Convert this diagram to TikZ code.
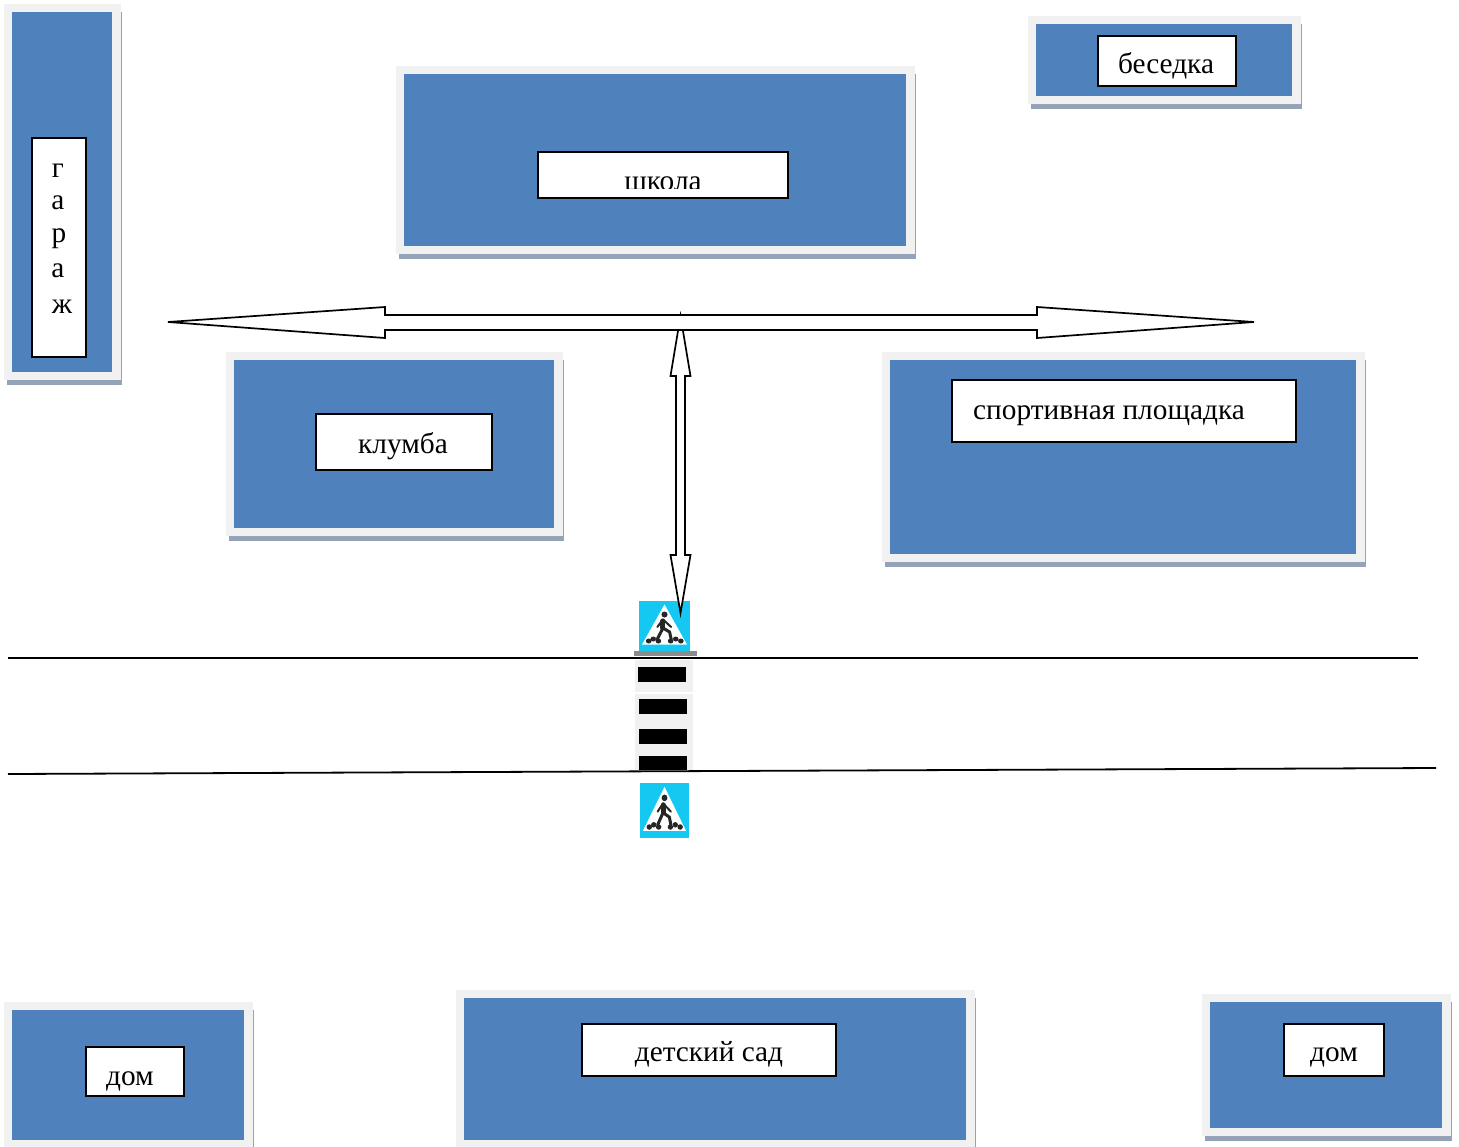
\documentclass[tikz,border=0pt]{standalone}
\usepackage{fontspec}
\setmainfont{Liberation Serif}
\definecolor{bfill}{HTML}{4F81BD}
\definecolor{bframe}{HTML}{F1F1F1}
\definecolor{bshadow}{HTML}{94A3B8}
\definecolor{signblue}{HTML}{14C8F2}
\tikzset{
  shadowrect/.style={fill=bshadow,draw=none},
  framerect/.style={fill=bframe,draw=none},
  bluerect/.style={fill=bfill,draw=none},
  labelbox/.style={draw=black,fill=white,line width=1.9pt},
  labeltext/.style={inner sep=0pt,font=\fontsize{29.3}{32}\selectfont,text=black},
  roadline/.style={draw=black,line width=1.8pt},
  blockarrow/.style={draw=black,fill=white,line width=1.7pt,line join=miter},
}
% building: blue x1,y1,x2,y2; frame margin 8; shadow offset
\newcommand{\bldg}[4]{%
  \fill[shadowrect] (#1-5,#2) rectangle (#3+10,#4+13);
  \fill[framerect] (#1-8,#2-8) rectangle (#3+8.5,#4+8);
  \fill[bluerect] (#1,#2) rectangle (#3,#4);
}
\newcommand{\signpict}[4]{%
  \begin{scope}[shift={(#1,#2)},x=#3pt,y=-#4pt]
    \fill[signblue] (0,0) rectangle (1,1);
    \fill[white] (.5,.07) -- (.94,.87) -- (.06,.87) -- cycle;
    \fill[black!85] (.50,.27) circle[x radius=.06,y radius=.06];
    \draw[black!85,line width=5pt,line cap=round,line join=round] (.47,.40) -- (.47,.54);
    \draw[black!85,line width=3pt,line cap=round,line join=round] (.47,.54) -- (.36,.76);
    \draw[black!85,line width=3pt,line cap=round,line join=round] (.47,.54) -- (.60,.62) -- (.63,.76);
    \draw[black!85,line width=2pt,line cap=round] (.47,.37) -- (.36,.52);
    \draw[black!85,line width=2pt,line cap=round] (.47,.37) -- (.63,.52);
    \foreach \px/\py in {.19/.80,.28/.76,.38/.80,.62/.80,.72/.76,.82/.80}
      \fill[black!85] (\px,\py) circle[x radius=.055,y radius=.05];
  \end{scope}
}
\begin{document}
\begin{tikzpicture}[x=1pt,y=-1pt]
\useasboundingbox (0,0) rectangle (1459,1146);
\fill[white] (0,0) rectangle (1459,1146);

% buildings
\bldg{12}{12}{112}{372}
\bldg{404}{74}{906}{246}
\bldg{1036}{24}{1292}{96}
\bldg{234}{360}{554}{528}
\bldg{890}{360}{1356}{554}
\begin{scope}
  \clip (0,0) rectangle (1459,1146);
  \bldg{12}{1010}{244}{1140}
  \bldg{464}{998}{966}{1140}
\end{scope}
\bldg{1210}{1002}{1442}{1128}

% label boxes
\draw[labelbox] (32,138) rectangle (86,357);
\node[labeltext] (g1) at (58,171) {г};
\node[labeltext] (g2) at (58,203) {а};
\node[labeltext] (g3) at (59,239) {р};
\node[labeltext] (g4) at (58,271) {а};
\node[labeltext] (g5) at (62,307) {ж};

\draw[labelbox] (538,152) rectangle (788,198);
\begin{scope}
  \clip (538,152) rectangle (788,188);
  \node[labeltext,anchor=base] (shkola) at (663,190) {школа};
\end{scope}

\draw[labelbox] (1098,36) rectangle (1236,86);
\node[labeltext,anchor=base] (besedka) at (1166,73) {беседка};

\draw[labelbox] (316,414) rectangle (492,470);
\node[labeltext,anchor=base] (klumba) at (403,453) {клумба};

\draw[labelbox] (952,380) rectangle (1296,442);
\node[labeltext,anchor=base] (sport) at (1109,419) {спортивная площадка};

\draw[labelbox] (86,1047) rectangle (184,1096);
\node[labeltext,anchor=base] (dom1) at (130,1085) {дом};

\draw[labelbox] (582,1024) rectangle (836,1076);
\node[labeltext,anchor=base] (dsad) at (709,1061) {детский сад};

\draw[labelbox] (1284,1024) rectangle (1384,1076);
\node[labeltext,anchor=base] (dom2) at (1334,1061) {дом};

% crossing
\signpict{639}{601}{51}{50}
\fill[gray!90] (634,651) rectangle (697,656);
\fill[bframe] (635,660) rectangle (693,770);
\fill[white] (635,692) rectangle (693,694);
\fill[black] (638,667) rectangle (686,682);
\fill[black] (639,699) rectangle (687,714);
\fill[black] (639,729) rectangle (687,744);
\fill[black] (639,756) rectangle (687,770);
\signpict{640}{783}{49}{55}

% vertical block arrow (its upper tip runs under the horizontal arrow)
\draw[blockarrow] (680.5,316) -- (690.5,376) -- (685,376) -- (685,555) -- (690.5,555)
  -- (680.5,613) -- (670.5,555) -- (676,555) -- (676,376) -- (670.5,376) -- cycle;
% horizontal block arrow
\draw[blockarrow] (168,322) -- (385,307) -- (385,315) -- (1037,315) -- (1037,307)
  -- (1254,322) -- (1037,338) -- (1037,330) -- (385,330) -- (385,338) -- cycle;

% road edges
\coordinate (r1a) at (8,658);
\coordinate (r1b) at (1418,658);
\coordinate (r2a) at (8,774);
\coordinate (r2b) at (1436,768);
\draw[roadline] (r1a) -- (r1b);
\draw[roadline] (r2a) -- (r2b);
\end{tikzpicture}
\end{document}
